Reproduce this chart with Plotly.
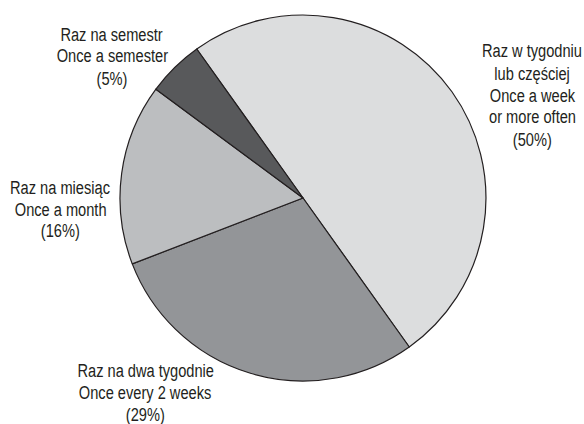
import plotly.graph_objects as go

# Survey: how often respondents do it
labels_pl = ["Raz w tygodniu\nlub częściej", "Raz na dwa tygodnie", "Raz na miesiąc", "Raz na semestr"]
labels_en = ["Once a week\nor more often", "Once every 2 weeks", "Once a month", "Once a semester"]
shares = [50, 29, 16, 5]
slice_colors = ["#dcddde", "#939598", "#bcbec0", "#58595b"]

W, H = 584, 424
FONT = "Liberation Sans, Arial, sans-serif"
LEADING = 22  # px between label lines (tight, print-style)

fig = go.Figure(
    go.Pie(
        values=shares,
        labels=[f"{p} / {e}".replace("\n", " ") for p, e in zip(labels_pl, labels_en)],
        sort=False,
        direction="clockwise",
        rotation=-35.5,
        marker=dict(colors=slice_colors, line=dict(color="#231f20", width=1.2)),
        textinfo="none",
        hoverinfo="label+percent",
        domain=dict(x=[120 / W, 486 / W], y=[(H - 381) / H, (H - 15) / H]),
    )
)

# label blocks: centre x and first-line centre y (pixels), in slice order
label_xy = [(532, 51), (145, 370), (60, 187), (112, 34)]
for pl, en, v, (px, py) in zip(labels_pl, labels_en, shares, label_xy):
    lines = pl.split("\n") + en.split("\n") + [f"({v}%)"]
    for i, line in enumerate(lines):
        fig.add_annotation(
            text=line,
            x=px / W, y=1 - (py + i * LEADING) / H, xref="paper", yref="paper",
            xanchor="center", yanchor="middle", align="center",
            showarrow=False,
            font=dict(family=FONT, size=19, color="#231f20"),
        )

fig.update_layout(
    width=W, height=H,
    margin=dict(l=0, r=0, t=0, b=0),
    paper_bgcolor="white", plot_bgcolor="white",
    showlegend=False,
)

# narrow the label lettering (condensed look) around each text's own centre
condense_js = """
document.querySelectorAll('.annotation-text').forEach(function (t) {
  t.style.transformBox = 'fill-box';
  t.style.transformOrigin = 'center';
  t.style.transform = 'scaleX(0.77)';
});
"""

fig.write_html("out.html", post_script=condense_js)
